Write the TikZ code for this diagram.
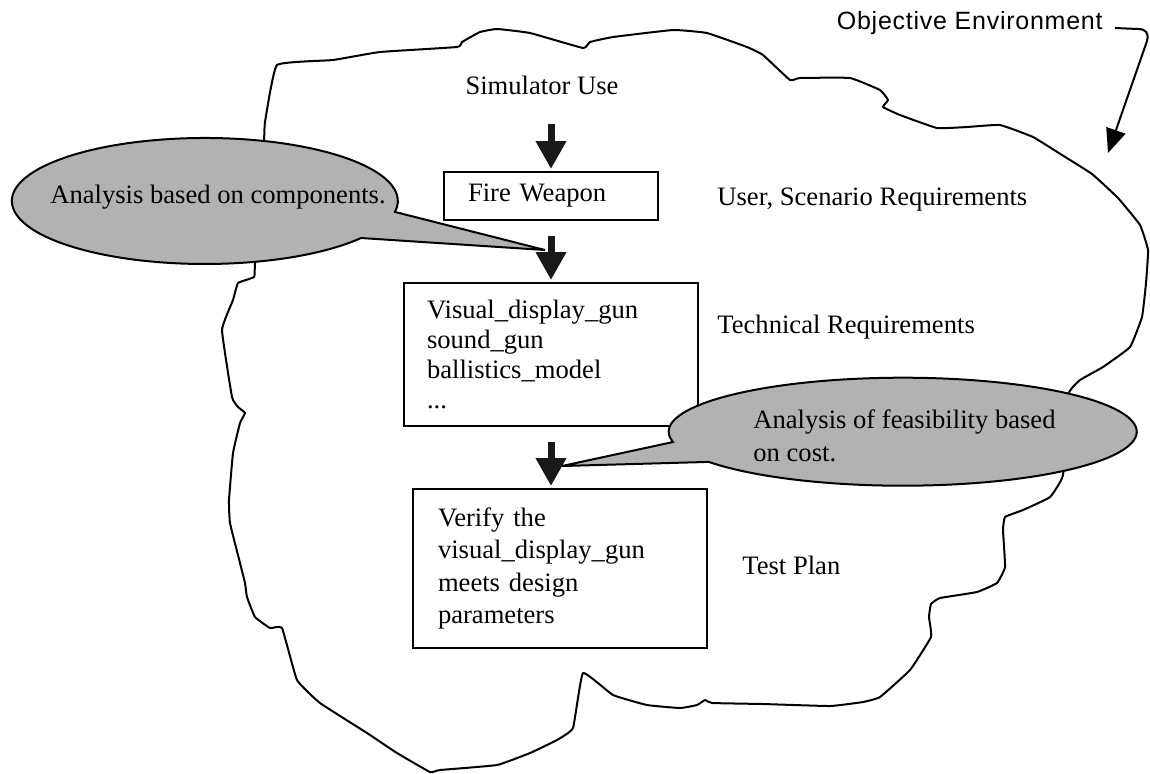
\documentclass[tikz,border=0pt]{standalone}
\usepackage{fontspec}
\setmainfont{Liberation Serif}
\newfontfamily\envfont[LetterSpace=3]{Liberation Sans}
\usetikzlibrary{arrows.meta,positioning,calc}

\begin{document}
\begin{tikzpicture}[x=0.5pt,y=-0.5pt,
  outline/.style={line width=1pt, line join=round},
  lbl/.style={inner sep=0pt, font=\fontsize{13.3}{15}\selectfont},
  stepbox/.style={draw, line width=1pt, align=left, anchor=north west, inner ysep=0pt},
  flow/.style={line width=3.5pt, draw=black!90, -{Triangle[length=14pt,width=14.5pt]}, shorten <=7.5pt, shorten >=1pt},
  bubble/.style={line width=1pt, draw=black, fill=black!30}]
\useasboundingbox (0,0) rectangle (1150,773);
\fill[white] (0,0) rectangle (1150,773);

\draw[outline] plot[smooth cycle, tension=0.2] coordinates {
  (277,65) (333,60) (380,52) (457,47) (462,42) (480,32) (497,29) (530,33) (583,48)
  (590,42) (613,37) (673,30) (707,33) (747,47) (763,55) (790,80) (800,78) (850,78)
  (880,90) (888,100) (883,107) (900,115) (937,128) (967,127) (1000,125) (1033,137)
  (1062,155) (1092,174) (1118,198) (1140,225) (1148,250) (1146,283) (1142,317)
  (1130,347) (1103,367) (1080,380) (1068,395) (1063,475) (1050,497) (1023,510)
  (1005,517) (1003,530) (1005,567) (997,583) (977,592) (940,598) (931,604) (929,617)
  (931,637) (910,670) (880,697) (863,702) (830,706) (763,704) (712,703) (705,700)
  (697,705) (680,708) (647,705) (613,695) (583,673) (573,728) (557,740) (530,753)
  (497,765) (440,770) (430,772) (397,753) (367,733) (320,703) (297,680) (282,628)
  (270,628) (255,617) (247,597) (245,583) (240,563) (230,523) (229,500) (233,453)
  (240,423) (245,413) (238,407) (232,397) (222,330) (233,300) (238,283) (254,277)
  (255,264) (264,140) (265,122)};

\node[lbl] (simuse) at (542,85) {Simulator Use};
\node[stepbox, font=\fontsize{13.3}{15}\selectfont, inner xsep=12pt, text width=83pt,
  minimum width=107pt, minimum height=24pt] (fire) at (443,171) {Fire Weapon};
\node[stepbox, font=\fontsize{13.3}{15}\selectfont, inner xsep=11.5pt, text width=124pt,
  minimum width=147pt, minimum height=71.5pt] (tech) at (403,282)
  {Visual\_display\_gun\\sound\_gun\\ballistics\_model\\...};
\node[stepbox, font=\fontsize{13.3}{16.3}\selectfont, inner xsep=12.5pt, text width=122pt,
  minimum width=147pt, minimum height=79.5pt] (test) at (412,488)
  {Verify the\\visual\_display\_gun\\meets design\\parameters};

\node[lbl, anchor=west] (userreq) at (717,200) {User, Scenario Requirements};
\node[lbl, anchor=west] (techreq) at (717,327) {Technical Requirements};
\node[lbl, anchor=west] (testplan) at (742,565) {Test Plan};
\node[inner sep=0pt, anchor=east, font=\envfont\fontsize{12.5}{14}\selectfont] (objenv) at (1103,23) {Objective Environment};

\draw[flow, shorten <=14.5pt] (simuse.south -| fire.north) -- (fire.north);
\draw[flow] (fire.south) -- (tech.north);
\draw[flow] (tech.south) -- (tech.south |- test.north);

\draw[bubble] (545,250) -- (361,238) arc[start angle=36, end angle=370, x radius=193, y radius=63] -- cycle;
\node[lbl] (compnote) at (218,197) {Analysis based on components.};
\draw[bubble] (562,466) -- (673,442) arc[start angle=169, end angle=506, x radius=234, y radius=54] -- cycle;
\node[lbl, anchor=west, align=left, font=\fontsize{13.3}{16.5}\selectfont] (costnote) at (753,436)
  {Analysis of feasibility based\\on cost.};

\coordinate (envtip) at (1108,153);
\draw[line width=1pt, -{Triangle[length=12pt,width=10pt]}] ([xshift=6pt,yshift=-2.5pt]objenv.east)
  -- (1138,29) .. controls (1146,29) and (1149,33) .. (1147,41) -- (envtip);
\end{tikzpicture}
\end{document}
